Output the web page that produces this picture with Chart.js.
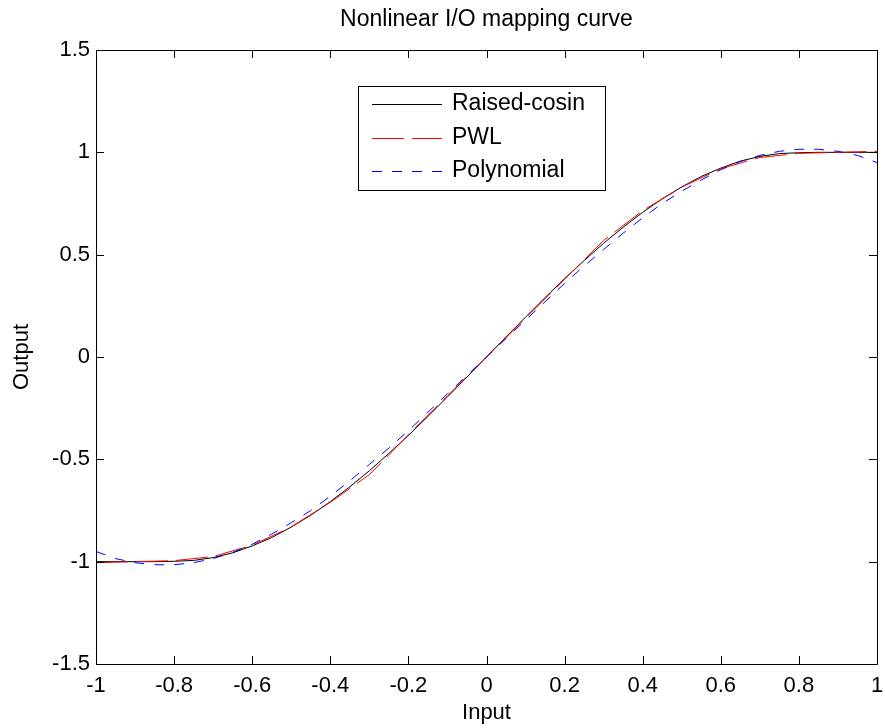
<!DOCTYPE html>
<html>
<head>
<meta charset="utf-8">
<script src="https://cdn.jsdelivr.net/npm/chart.js@4.4.1/dist/chart.umd.min.js"></script>
<style>
  html, body { margin: 0; padding: 0; background: #fff; }
  #wrap { width: 885px; height: 728px; }
</style>
</head>
<body>
<div id="wrap"><canvas id="ioChart"></canvas></div>
<script>
// values
const xCosine = [-1, -0.95, -0.9, -0.85, -0.8, -0.75, -0.7, -0.65, -0.6, -0.55, -0.5, -0.45, -0.4, -0.35, -0.3, -0.25, -0.2, -0.15, -0.1, -0.05,
                 0, 0.05, 0.1, 0.15, 0.2, 0.25, 0.3, 0.35, 0.4, 0.45, 0.5, 0.55, 0.6, 0.65, 0.7, 0.75, 0.8, 0.85, 0.9, 0.95, 1];
const yCosine = [-1, -1, -1, -1, -0.998, -0.994, -0.98, -0.957, -0.923, -0.882, -0.831, -0.773, -0.707, -0.634, -0.556, -0.471, -0.383, -0.29, -0.195, -0.098,
                 0, 0.098, 0.195, 0.29, 0.383, 0.471, 0.556, 0.634, 0.707, 0.773, 0.831, 0.882, 0.923, 0.957, 0.98, 0.994, 0.998, 1, 1, 1, 1];

const xPwl = [-1, -0.9, -0.8, -0.7, -0.6, -0.5, -0.4, -0.3, -0.2, -0.1, 0, 0.1, 0.2, 0.3, 0.4, 0.5, 0.6, 0.7, 0.8, 0.9, 1];
const yPwl = [-1.005, -1, -0.995, -0.975, -0.92, -0.83, -0.71, -0.575, -0.38, -0.19, 0, 0.19, 0.38, 0.57, 0.715, 0.83, 0.92, 0.975, 0.995, 1, 1.005];

const xPoly = xCosine;
const yPoly = [-0.95, -0.985, -1.005, -1.015, -1.015, -1.005, -0.985, -0.955, -0.915, -0.865, -0.81, -0.75, -0.68, -0.605, -0.525, -0.445, -0.36, -0.27, -0.18, -0.09,
               0, 0.09, 0.18, 0.27, 0.36, 0.445, 0.525, 0.605, 0.68, 0.75, 0.81, 0.865, 0.915, 0.955, 0.985, 1.005, 1.015, 1.015, 1.005, 0.985, 0.95];

const xTicks = [-1, -0.8, -0.6, -0.4, -0.2, 0, 0.2, 0.4, 0.6, 0.8, 1];
const yTicks = [-1.5, -1, -0.5, 0, 0.5, 1, 1.5];

const seriesNames = ['Raised-cosin', 'PWL', 'Polynomial'];
const seriesColors = ['#000000', '#ff0000', '#0000ff'];
const seriesDash = [[], [32, 8], [10, 10]];

const FONT = 'Arial, "Liberation Sans", sans-serif';

function pairs(xs, ys) {
    return xs.map((x, i) => ({ x: x, y: ys[i] }));
}

// MATLAB prints -1 and 1, not -1.0 / 1.0
const plainLabel = v => String(Math.round(v * 10) / 10);

// MATLAB style box with inward ticks
const boxTicks = {
    id: 'boxTicks',
    afterDatasetsDraw(chart) {
        const { ctx, chartArea: a, scales } = chart;
        const len = 8;
        ctx.save();
        ctx.strokeStyle = '#000';
        ctx.lineWidth = 1;
        ctx.beginPath();
        ctx.rect(a.left + 0.5, a.top + 0.5, a.right - a.left, a.bottom - a.top);
        xTicks.forEach(v => {
            const px = Math.round(scales.x.getPixelForValue(v)) + 0.5;
            ctx.moveTo(px, a.bottom); ctx.lineTo(px, a.bottom - len);
            ctx.moveTo(px, a.top); ctx.lineTo(px, a.top + len);
        });
        yTicks.forEach(v => {
            const py = Math.round(scales.y.getPixelForValue(v)) + 0.5;
            ctx.moveTo(a.left, py); ctx.lineTo(a.left + len, py);
            ctx.moveTo(a.right, py); ctx.lineTo(a.right - len, py);
        });
        ctx.stroke();
        ctx.restore();
    }
};

// boxed legend inside the axes, like the original
const boxLegend = {
    id: 'boxLegend',
    afterDraw(chart) {
        const ctx = chart.ctx;
        const left = 358, top = 86, w = 247, h = 104;
        ctx.save();
        ctx.fillStyle = '#fff';
        ctx.fillRect(left, top, w, h);
        ctx.strokeStyle = '#000';
        ctx.lineWidth = 1;
        ctx.strokeRect(left + 0.5, top + 0.5, w, h);
        ctx.font = '23px ' + FONT;
        ctx.textBaseline = 'middle';
        chart.data.datasets.forEach((ds, i) => {
            const y = top + 18 + i * 33.5;
            ctx.strokeStyle = ds.borderColor;
            ctx.setLineDash(ds.borderDash || []);
            ctx.beginPath();
            ctx.moveTo(372, Math.round(y) + 0.5);
            ctx.lineTo(442, Math.round(y) + 0.5);
            ctx.stroke();
            ctx.setLineDash([]);
            ctx.fillStyle = '#000';
            ctx.fillText(ds.label, 452, y);
        });
        ctx.restore();
    }
};

const ioChart = new Chart(document.getElementById('ioChart'), {
    type: 'line',
    data: {
        datasets: [
            { label: seriesNames[0], data: pairs(xCosine, yCosine), borderColor: seriesColors[0], borderDash: seriesDash[0], order: 3 },
            { label: seriesNames[1], data: pairs(xPwl, yPwl), borderColor: seriesColors[1], borderDash: seriesDash[1], order: 2 },
            { label: seriesNames[2], data: pairs(xPoly, yPoly), borderColor: seriesColors[2], borderDash: seriesDash[2], order: 1 }
        ]
    },
    options: {
        responsive: true,
        maintainAspectRatio: false,
        animation: false,
        layout: { padding: { left: 0, right: 8, top: 0, bottom: 0 } },
        elements: {
            line: { borderWidth: 1, tension: 0, fill: false },
            point: { radius: 0 }
        },
        scales: {
            x: {
                type: 'linear',
                min: -1,
                max: 1,
                afterBuildTicks: s => { s.ticks = xTicks.map(v => ({ value: v })); },
                afterFit: s => { s.height = 64; s.paddingRight = 0; s.paddingLeft = 0; },
                grid: { display: false, drawTicks: false },
                border: { display: false },
                ticks: { color: '#000', padding: 9, font: { family: FONT, size: 22 }, maxRotation: 0, autoSkip: false, callback: plainLabel },
                title: { display: true, text: 'Input', color: '#000', font: { family: FONT, size: 22 }, padding: { top: 0, bottom: 2 } }
            },
            y: {
                type: 'linear',
                min: -1.5,
                max: 1.5,
                afterBuildTicks: s => { s.ticks = yTicks.map(v => ({ value: v })); },
                afterFit: s => { s.width = 96; },
                grid: { display: false, drawTicks: false },
                border: { display: false },
                ticks: { color: '#000', padding: 6, font: { family: FONT, size: 22 }, autoSkip: false, callback: plainLabel },
                title: { display: true, text: 'Output', color: '#000', font: { family: FONT, size: 22 }, padding: { top: 9, bottom: 0 } }
            }
        },
        plugins: {
            legend: { display: false },
            tooltip: { enabled: false },
            title: {
                display: true,
                text: 'Nonlinear I/O mapping curve',
                color: '#000',
                fullSize: false,
                font: { family: FONT, size: 23, weight: 'normal' },
                padding: { top: 6, bottom: 16.4 }
            }
        }
    },
    plugins: [boxTicks, boxLegend]
});
</script>
</body>
</html>
